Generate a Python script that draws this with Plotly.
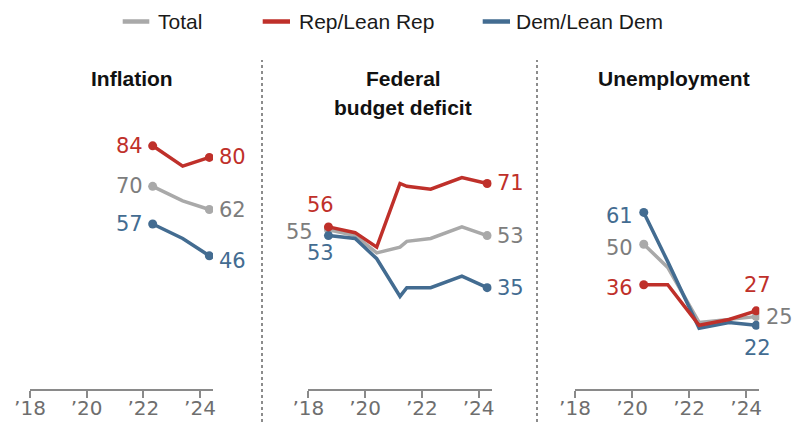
import plotly.graph_objects as go

W, H = 796, 422

# ---------------- data ----------------
series_names = ["Total", "Rep/Lean Rep", "Dem/Lean Dem"]
panel_titles = ["Inflation", "Federal budget deficit", "Unemployment"]
tick_vals = [2018, 2020, 2022, 2024]
tick_text = ["\u201918", "\u201920", "\u201922", "\u201924"]

infl_x = [2022.33, 2023.39, 2024.33]
infl_total = [70, 65, 62]
infl_rep = [84, 77, 80]
infl_dem = [57, 52, 46]

def_x = [2018.71, 2019.65, 2020.41, 2021.23, 2021.47, 2022.31, 2023.41, 2024.30]
def_total = [55, 53, 47, 49, 51, 52, 56, 53]
def_rep = [56, 54, 49, 71, 70, 69, 73, 71]
def_dem = [53, 52, 45, 32, 35, 35, 39, 35]

unemp_x = [2020.41, 2021.25, 2022.35, 2023.40, 2024.35]
unemp_total = [50, 42, 23, 24, 25]
unemp_rep = [36, 36, 22, 24, 27]
unemp_dem = [61, 44, 21, 23, 22]

# ---------------- style ----------------
C_TOTAL = "#A9A9A9"
C_TOTAL_TXT = "#7D7D7D"
C_REP = "#BF302A"
C_DEM = "#436C91"
NUM_FONT = "DejaVu Sans"
NUM_SIZE = 21
TXT_FONT = "Liberation Sans, Arial, sans-serif"

def px_x(x):
    return x / W

def px_y(y):
    return 1 - y / H

# axis geometry (pixels)
x_doms = [(30, 213), (308.3, 491.7), (575, 759.3)]
x_range = [2018, 2018 + 183 / 28.33]
y_zero_px = 389
y_top_px = 100
px_per_unit = 2.895
y_range = [0, (y_zero_px - y_top_px) / px_per_unit]

fig = go.Figure()

panels = [
    (infl_x, infl_total, infl_rep, infl_dem),
    (def_x, def_total, def_rep, def_dem),
    (unemp_x, unemp_total, unemp_rep, unemp_dem),
]

for i, (xs, tot, rep, dem) in enumerate(panels):
    xa = "x" if i == 0 else f"x{i+1}"
    ya = "y" if i == 0 else f"y{i+1}"
    for vals, col in [(tot, C_TOTAL), (dem, C_DEM), (rep, C_REP)]:
        fig.add_trace(go.Scatter(
            x=xs, y=vals, mode="lines", xaxis=xa, yaxis=ya,
            line=dict(color=col, width=3.5),
            showlegend=False, hoverinfo="skip",
        ))
        fig.add_trace(go.Scatter(
            x=[xs[0], xs[-1]], y=[vals[0], vals[-1]], mode="markers",
            xaxis=xa, yaxis=ya, opacity=1,
            marker=dict(color=col, size=9, opacity=1, line=dict(width=0)),
            showlegend=False, hoverinfo="skip",
        ))

layout_axes = {}
for i, (x0, x1) in enumerate(x_doms):
    sfx = "" if i == 0 else str(i + 1)
    layout_axes[f"xaxis{sfx}"] = dict(
        domain=[px_x(x0), px_x(x1)], range=x_range,
        anchor=f"y{sfx}", showgrid=False, zeroline=False, automargin=False,
        showline=True, linecolor="#8A8A8A", linewidth=1.5,
        ticks="outside", ticklen=7, tickwidth=1.5, tickcolor="#8A8A8A",
        ticklabelstandoff=-7,
        tickvals=tick_vals, ticktext=tick_text,
        tickfont=dict(family=NUM_FONT, size=20, color="#6E6E6E"),
        fixedrange=True,
    )
    layout_axes[f"yaxis{sfx}"] = dict(
        domain=[px_y(y_zero_px), px_y(y_top_px)], range=y_range,
        anchor=f"x{sfx}", visible=False, fixedrange=True, automargin=False,
    )

fig.update_layout(
    width=W, height=H,
    margin=dict(l=0, r=0, t=0, b=0, autoexpand=False),
    paper_bgcolor="white", plot_bgcolor="white",
    showlegend=False,
    **layout_axes,
)

annotations = []

def lab(text, panel, x, y, color, xanchor, xshift=0, yshift=0):
    sfx = "" if panel == 0 else str(panel + 1)
    annotations.append(dict(
        text=text, x=x, y=y, xref=f"x{sfx}", yref=f"y{sfx}",
        xanchor=xanchor, yanchor="middle", showarrow=False,
        xshift=xshift, yshift=yshift,
        font=dict(family=NUM_FONT, size=NUM_SIZE, color=color),
    ))

# Inflation labels
lab(str(infl_rep[0]), 0, infl_x[0], infl_rep[0], C_REP, "right", -8, 0)
lab(str(infl_total[0]), 0, infl_x[0], infl_total[0], C_TOTAL_TXT, "right", -8, 0)
lab(str(infl_dem[0]), 0, infl_x[0], infl_dem[0], C_DEM, "right", -8, 0)
lab(str(infl_rep[-1]), 0, infl_x[-1], infl_rep[-1], C_REP, "left", 8, 0)
lab(str(infl_total[-1]), 0, infl_x[-1], infl_total[-1], C_TOTAL_TXT, "left", 8, 0)
lab(str(infl_dem[-1]), 0, infl_x[-1], infl_dem[-1], C_DEM, "left", 8, -5)

# Deficit labels
lab(str(def_rep[0]), 1, def_x[0], def_rep[0], C_REP, "center", -8, 22)
lab(str(def_total[0]), 1, def_x[0], def_total[0], C_TOTAL_TXT, "right", -13, -2)
lab(str(def_dem[0]), 1, def_x[0], def_dem[0], C_DEM, "center", -8, -17)
lab(str(def_rep[-1]), 1, def_x[-1], def_rep[-1], C_REP, "left", 8, 0)
lab(str(def_total[-1]), 1, def_x[-1], def_total[-1], C_TOTAL_TXT, "left", 8, 0)
lab(str(def_dem[-1]), 1, def_x[-1], def_dem[-1], C_DEM, "left", 8, 0)

# Unemployment labels
lab(str(unemp_dem[0]), 2, unemp_x[0], unemp_dem[0], C_DEM, "right", -9, -4)
lab(str(unemp_total[0]), 2, unemp_x[0], unemp_total[0], C_TOTAL_TXT, "right", -9, -4)
lab(str(unemp_rep[0]), 2, unemp_x[0], unemp_rep[0], C_REP, "right", -9, -3)
lab(str(unemp_rep[-1]), 2, unemp_x[-1], unemp_rep[-1], C_REP, "center", 1, 26)
lab(str(unemp_total[-1]), 2, unemp_x[-1], unemp_total[-1], C_TOTAL_TXT, "left", 8, 0)
lab(str(unemp_dem[-1]), 2, unemp_x[-1], unemp_dem[-1], C_DEM, "center", 1, -23)

# Panel titles
def title(text, xc, yc):
    annotations.append(dict(
        text=f"<b>{text}</b>", x=px_x(xc), y=px_y(yc), xref="paper", yref="paper",
        xanchor="center", yanchor="middle", showarrow=False,
        font=dict(family=TXT_FONT, size=21, color="#111111"),
    ))

title(panel_titles[0], 132, 78)
fed_words = panel_titles[1].split(" ")
title(fed_words[0], 403, 78)
title(" ".join(fed_words[1:]), 403, 107)
title(panel_titles[2], 674, 78)

# Custom legend
shapes = []
leg = [(series_names[0], C_TOTAL, 122.7, 149.3, 156),
       (series_names[1], C_REP, 262.7, 290, 297),
       (series_names[2], C_DEM, 482.7, 510, 514)]
for name, col, lx0, lx1, tx in leg:
    shapes.append(dict(type="line", xref="paper", yref="paper",
                       x0=px_x(lx0), x1=px_x(lx1), y0=px_y(21.5), y1=px_y(21.5),
                       line=dict(color=col, width=4.5)))
    annotations.append(dict(
        text=name, x=px_x(tx), y=px_y(21.5), xref="paper", yref="paper",
        xanchor="left", yanchor="middle", showarrow=False,
        font=dict(family=TXT_FONT, size=21, color="#1A1A1A"),
    ))

# Dotted dividers
for dx in [262, 537]:
    shapes.append(dict(type="line", xref="paper", yref="paper",
                       x0=px_x(dx), x1=px_x(dx), y0=0, y1=px_y(60),
                       line=dict(color="#8C8C8C", width=2, dash="dot")))

fig.update_layout(annotations=annotations, shapes=shapes)

fig.write_html("out.html")
